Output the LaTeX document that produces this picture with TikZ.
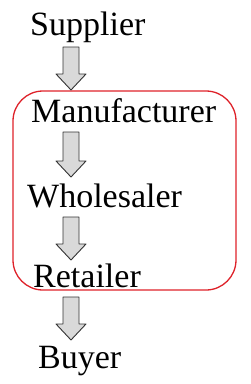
\documentclass[tikz,border=0pt]{standalone}
\usepackage{fontspec}
\setmainfont{Liberation Serif}
\usetikzlibrary{calc}
\definecolor{boxred}{RGB}{222,34,42}
\definecolor{arrowgray}{RGB}{217,217,217}

\begin{document}
\begin{tikzpicture}[x=1pt,y=-1pt,line join=round,
  label/.style={anchor=base west,inner sep=0pt,font=\fontsize{34}{38}\selectfont},
  flowarrow/.style={draw=black!80,fill=arrowgray,line width=0.9pt}]
  \useasboundingbox (0,0) rectangle (250,384);
  \draw[boxred,line width=1.3pt,rounded corners=30pt] (13,91) rectangle (236,290);
  \node[label] (supplier) at (30,35) {Supplier};
  \node[label] (manufacturer) at (31,122) {Manufacturer};
  \node[label] (wholesaler) at (27,207) {Wholesaler};
  \node[label] (retailer) at (33,287) {Retailer};
  \node[label] (buyer) at (38,368) {Buyer};
  \coordinate (top1) at (71,47);  \coordinate (tip1) at (71,90);
  \coordinate (top2) at (71,132); \coordinate (tip2) at (71,177);
  \coordinate (top3) at (71,217); \coordinate (tip3) at (71,260);
  \coordinate (top4) at (71,297); \coordinate (tip4) at (71,340);
  \foreach \i in {1,...,4}
    {\draw[flowarrow] let \p1=(top\i), \p2=(tip\i) in
      (\x1-8pt,\y1) -- (\x1+8pt,\y1) -- (\x1+8pt,\y2+16pt) -- (\x1+15pt,\y2+16pt)
      -- (\p2) -- (\x1-15pt,\y2+16pt) -- (\x1-8pt,\y2+16pt) -- cycle;}
\end{tikzpicture}
\end{document}
